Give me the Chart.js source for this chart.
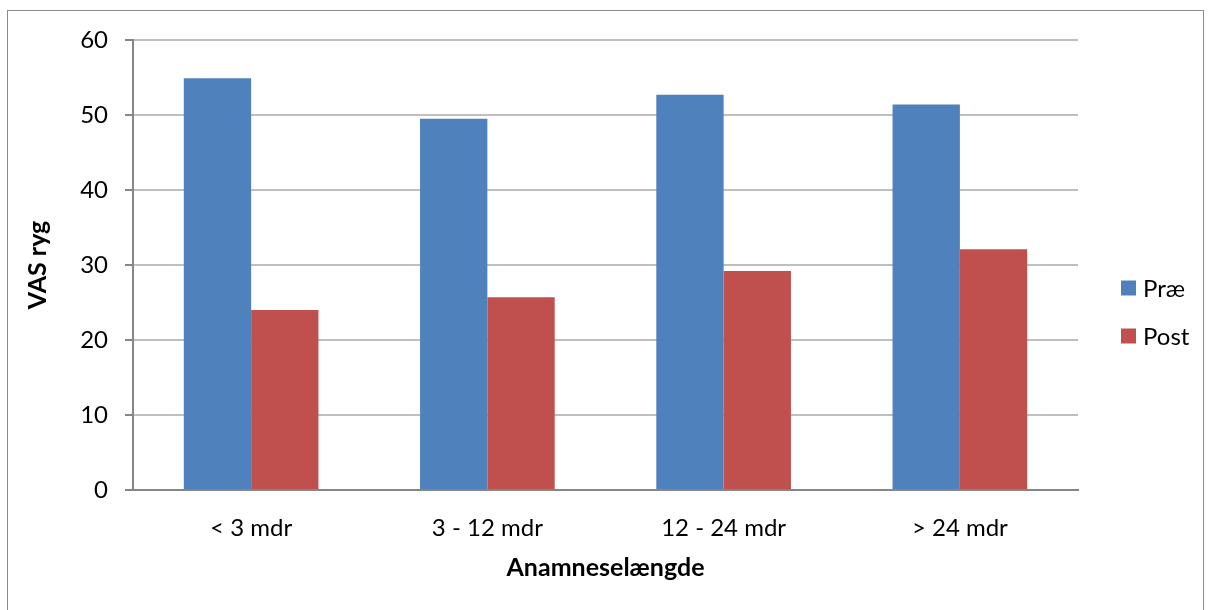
<!DOCTYPE html>
<html>
<head>
<meta charset="utf-8">
<script src="https://cdn.jsdelivr.net/npm/chart.js@4/dist/chart.umd.min.js"></script>
<style>
  html, body { margin: 0; padding: 0; background: #fff; }
  #wrap { width: 1212px; height: 610px; position: relative; }
</style>
</head>
<body>
<div id="wrap"><canvas id="c" width="1212" height="610"></canvas></div>
<script>
// Anamnese duration groups and mean back VAS before / after
const categories = ['< 3 mdr', '3 - 12 mdr', '12 - 24 mdr', '> 24 mdr'];
const seriesNames = ['Præ', 'Post'];
const praeValues = [54.9, 49.5, 52.7, 51.4];
const postValues = [24.0, 25.7, 29.2, 32.1];
const yTicks = [0, 10, 20, 30, 40, 50, 60];
const yTitle = 'VAS ryg';
const xTitle = 'Anamnesel\u00e6ngde';

const colors = ['#4f81bd', '#c0504d'];
const FONT = 'Lato, "Open Sans", sans-serif';

// outer frame around the whole chart
const framePlugin = {
  id: 'frame',
  beforeDraw(chart) {
    const ctx = chart.ctx;
    ctx.save();
    ctx.fillStyle = '#fff';
    ctx.fillRect(0, 0, chart.width, chart.height);
    ctx.strokeStyle = '#8c8c8c';
    ctx.lineWidth = 1;
    ctx.strokeRect(7.5, 10.5, 1196, 640);
    ctx.restore();
  }
};

// legend to the right of the plot area
const sideLegend = {
  id: 'sideLegend',
  afterDraw(chart) {
    const ctx = chart.ctx;
    ctx.save();
    ctx.font = '24px ' + FONT;
    ctx.textBaseline = 'middle';
    ctx.textAlign = 'left';
    chart.data.datasets.forEach((ds, i) => {
      const cy = 288 + i * 48;
      ctx.fillStyle = ds.backgroundColor;
      ctx.fillRect(1121, cy - 7.5, 15, 15);
      ctx.fillStyle = '#000';
      ctx.fillText(ds.label, 1143, cy + 1);
    });
    ctx.restore();
  }
};

new Chart(document.getElementById('c'), {
  type: 'bar',
  data: {
    labels: categories,
    datasets: [
      { label: seriesNames[0], data: praeValues, backgroundColor: colors[0] },
      { label: seriesNames[1], data: postValues, backgroundColor: colors[1] }
    ]
  },
  options: {
    responsive: false,
    devicePixelRatio: 1,
    animation: false,
    layout: { padding: { top: 40, right: 134, left: 0, bottom: 0 } },
    datasets: { bar: { categoryPercentage: 0.57, barPercentage: 1.0 } },
    plugins: {
      legend: { display: false },
      tooltip: { enabled: false }
    },
    scales: {
      x: {
        grid: { display: false, drawTicks: false },
        border: { color: '#868686', width: 2 },
        ticks: { color: '#000', font: { family: FONT, size: 24 }, padding: 24, maxRotation: 0 },
        title: {
          display: true, text: xTitle, color: '#000',
          font: { family: FONT, size: 25, weight: 'bold' },
          padding: { top: 0, bottom: 27 }
        },
        afterFit(scale) { scale.height = 120; }
      },
      y: {
        min: 0, max: 60,
        afterBuildTicks(scale) { scale.ticks = yTicks.map(v => ({ value: v })); },
        grid: { color: '#bfbfbf', lineWidth: 2, tickLength: 8, tickColor: '#868686' },
        border: { color: '#868686', width: 2 },
        ticks: { color: '#000', font: { family: FONT, size: 24 }, padding: 17 },
        title: {
          display: true, text: yTitle, color: '#000',
          font: { family: FONT, size: 25, weight: 'bold' },
          padding: { top: 23, bottom: 0 }
        },
        afterFit(scale) { scale.width = 133; }
      }
    }
  },
  plugins: [framePlugin, sideLegend]
});
</script>
</body>
</html>
